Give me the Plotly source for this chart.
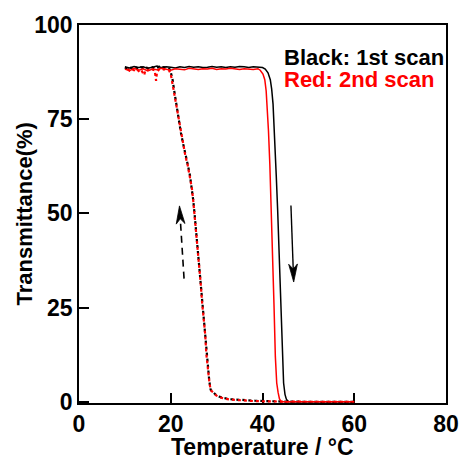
import plotly.graph_objects as go

# ---------------- data ----------------
# Heating, 1st scan (black solid)
heat1_T = [10, 11, 12, 13, 14, 15, 16, 17, 18, 19, 20, 21, 22, 23, 24, 25, 26, 27, 28, 29,
           30, 31, 32, 33, 34, 35, 36, 37, 38, 39, 40,
           40.6, 41.2, 41.7, 42.0, 42.3, 42.6, 43.0, 43.3, 43.7, 44.0, 44.2, 44.4, 44.6, 44.9,
           45.2, 45.6, 46, 50, 55, 60]
heat1_Y = [88.9, 88.6, 89.0, 88.7, 88.9, 88.5, 88.8, 89.1, 88.7, 88.9, 88.8, 88.6, 88.9, 88.7,
           89.0, 88.8, 88.9, 88.7, 88.8, 89.0, 88.8, 88.9, 88.7, 88.9, 88.8, 89.0, 88.9, 88.7,
           88.9, 88.8, 88.7,
           88.3, 87.3, 85.5, 83.0, 79.0, 72.0, 60.0, 51.0, 38.0, 26.0, 18.0, 10.0, 5.0, 2.0,
           0.7, 0.1, 0, 0, 0, 0]

# Heating, 2nd scan (red solid)
heat2_T = [10, 11, 12, 13, 14, 15, 16, 17, 18, 19, 20, 21, 22, 23, 24, 25, 26, 27, 28, 29,
           30, 31, 32, 33, 34, 35, 36, 37, 38, 39,
           39.5, 40.1, 40.5, 40.8, 41.0, 41.3, 41.6, 41.9, 42.2, 42.5, 42.8, 43.1, 43.4, 43.7,
           44.1, 50, 55, 60]
heat2_Y = [88.3, 87.9, 88.5, 88.0, 88.4, 87.8, 88.3, 88.1, 88.5, 88.2, 88.0, 88.4, 88.3, 88.1,
           88.5, 88.3, 88.2, 88.4, 88.3, 88.5, 88.2, 88.4, 88.3, 88.5, 88.3, 88.2, 88.4, 88.3,
           88.2, 88.4,
           88.0, 87.0, 85.5, 82.5, 78.5, 72.0, 63.0, 52.0, 40.0, 26.0, 12.0, 5.0, 2.5, 0.8,
           0, 0, 0, 0]

# Cooling, 1st scan (black dotted)
cool1_T = [10, 10.5, 11, 11.5, 12, 12.5, 13, 13.5, 14, 14.5, 15, 15.5, 16, 16.5, 17, 17.5,
           18, 18.5, 19, 19.7, 20.0, 20.4, 20.7, 21.0, 21.4, 21.8, 22.2, 22.7, 23.2, 23.7,
           24.2, 24.6, 24.9, 25.2, 25.5, 25.9, 26.3, 26.5, 26.8, 27.2, 27.5, 27.75, 28.0,
           28.4, 28.7, 29.3, 29.9, 30.5, 31.6, 33, 35, 38.4, 45, 50, 55, 60]
cool1_Y = [88.7, 88.4, 88.8, 88.5, 88.9, 88.6, 88.4, 88.8, 88.6, 88.9, 88.5, 88.7, 88.8, 88.4,
           88.7, 88.9, 88.6, 88.8, 88.5, 88.4, 87.5, 85.5, 83.0, 80.5, 77.5, 74.1, 71.5, 68.5,
           65.3, 63.0, 60.0, 56.8, 53.5, 49.8, 45.5, 40.5, 35.8, 32.0, 27.0, 22.5, 18.2, 13.0,
           9.3, 5.5, 3.2, 2.4, 1.8, 1.4, 1.0, 0.7, 0.5, 0.3, 0.05, 0, 0, 0]

# Cooling, 2nd scan (red dotted)
cool2_T = [10, 10.5, 11, 11.5, 12, 12.5, 13, 13.5, 14.2, 14.5, 15, 15.5, 16, 16.5, 16.8, 17.0,
           17.5, 18, 18.5, 19, 19.6, 20.0, 20.3, 20.6, 21.0, 21.4, 21.8, 22.2, 22.7, 23.2,
           23.7, 24.2, 24.6, 24.9, 25.2, 25.5, 25.9, 26.3, 26.5, 26.8, 27.2, 27.5, 27.75,
           28.0, 28.4, 28.7, 29.3, 29.9, 30.5, 31.6, 33, 35, 38.4, 45, 50, 55, 60]
cool2_Y = [88.2, 88.5, 87.9, 88.3, 88.0, 88.4, 87.8, 88.2, 86.7, 88.1, 88.4, 87.9, 88.2, 88.0,
           85.2, 87.5, 88.3, 88.0, 88.3, 88.1, 88.0, 87.0, 85.0, 83.0, 80.0, 77.0, 74.0, 71.3,
           68.3, 65.2, 62.8, 59.8, 56.7, 53.4, 49.6, 45.3, 40.3, 35.6, 31.8, 26.8, 22.3, 18.0,
           12.8, 9.1, 5.4, 3.1, 2.3, 1.7, 1.3, 0.9, 0.6, 0.4, 0.2, 0.05, 0, 0, 0]

# axis ticks and texts
x_ticks = [0, 20, 40, 60, 80]
y_ticks = [0, 25, 50, 75, 100]
x_title = "Temperature / °C"
y_title = "Transmittance(%)"
legend_lines = ["Black: 1st scan", "Red: 2nd scan"]

# arrows: (tail, tip) in data units
arrow_heat = ((46.2, 52.1), (46.8, 31.8))   # solid, pointing down
arrow_cool = ((22.9, 32.7), (21.9, 52.0))   # dashed, pointing up

# ---------------- figure ----------------
BLACK = "#000000"
RED = "#ff0000"
FONT = "Liberation Sans, Arial, Helvetica, sans-serif"

X_RANGE = [0, 80]
Y_RANGE = [-0.3, 100]
W, H = 471, 457
ML, MR, MT, MB = 79, 15, 24, 54
PW, PH = W - ML - MR, H - MT - MB
SX = PW / (X_RANGE[1] - X_RANGE[0])
SY = PH / (Y_RANGE[1] - Y_RANGE[0])

fig = go.Figure()
fig.add_trace(go.Scatter(x=cool1_T, y=cool1_Y, mode="lines",
                         line=dict(color=BLACK, width=2.2, dash="3px,3px")))
fig.add_trace(go.Scatter(x=cool2_T, y=cool2_Y, mode="lines",
                         line=dict(color=RED, width=2.2, dash="0px,3px,3px,0px")))
fig.add_trace(go.Scatter(x=heat1_T, y=heat1_Y, mode="lines",
                         line=dict(color=BLACK, width=1.5)))
fig.add_trace(go.Scatter(x=heat2_T, y=heat2_Y, mode="lines",
                         line=dict(color=RED, width=1.5)))


def head_path(tail, tip, L=18, hw=4.5, notch=5):
    dx = (tip[0] - tail[0]) * SX
    dy = (tip[1] - tail[1]) * SY
    n = (dx * dx + dy * dy) ** 0.5
    ux, uy = dx / n, dy / n
    px, py = -uy, ux
    tx, ty = tip[0] * SX, tip[1] * SY
    bx, by = tx - ux * L, ty - uy * L
    pts = [(tx, ty), (bx + px * hw, by + py * hw), (tx - ux * (L - notch), ty - uy * (L - notch)),
           (bx - px * hw, by - py * hw)]
    d = "M " + " L ".join(f"{x / SX:.4f},{y / SY:.4f}" for x, y in pts) + " Z"
    base = ((tx - ux * (L - notch)) / SX, (ty - uy * (L - notch)) / SY)
    return d, base


for (tail, tip), dash, lw in [(arrow_heat, "solid", 1.4), (arrow_cool, "7px,5px", 1.6)]:
    d, base = head_path(tail, tip)
    fig.add_shape(type="line", xref="x", yref="y", x0=tail[0], y0=tail[1], x1=base[0], y1=base[1],
                  line=dict(color=BLACK, width=lw, dash=dash))
    fig.add_shape(type="path", xref="x", yref="y", path=d, fillcolor=BLACK,
                  line=dict(color=BLACK, width=0.8))

# legend as text
fig.add_annotation(x=44.2, y=91.3, xref="x", yref="y", text=legend_lines[0], showarrow=False,
                   xanchor="left", yanchor="middle",
                   font=dict(family=FONT, size=22, color=BLACK, weight="bold"))
fig.add_annotation(x=44.2, y=85.6, xref="x", yref="y", text=legend_lines[1], showarrow=False,
                   xanchor="left", yanchor="middle",
                   font=dict(family=FONT, size=22, color=RED, weight="bold"))

# axis titles
fig.add_annotation(x=0.5, y=-44 / PH, xref="paper", yref="paper", text=x_title,
                   showarrow=False, xanchor="center", yanchor="middle",
                   font=dict(family=FONT, size=23, color=BLACK, weight="bold"))
fig.add_annotation(x=(22 - ML) / PW, y=0.5, xref="paper", yref="paper", text=y_title,
                   showarrow=False, xanchor="center", yanchor="middle", textangle=-90,
                   font=dict(family=FONT, size=22, color=BLACK, weight="bold"))

axis_common = dict(showgrid=False, zeroline=False, showline=True, linecolor=BLACK,
                   linewidth=1.5, mirror=True, ticks="inside", ticklen=10, tickwidth=1.5,
                   tickcolor=BLACK, layer="below traces",
                   tickfont=dict(family=FONT, size=23, color=BLACK, weight="bold"))

fig.update_xaxes(range=X_RANGE, tickvals=x_ticks, ticktext=[str(v) for v in x_ticks],
                 **axis_common)
fig.update_yaxes(range=Y_RANGE, tickvals=y_ticks, ticktext=[str(v) for v in y_ticks],
                 **axis_common)

fig.update_layout(width=W, height=H, margin=dict(l=ML, r=MR, t=MT, b=MB),
                  paper_bgcolor="white", plot_bgcolor="white", showlegend=False,
                  font=dict(family=FONT, color=BLACK))

fig.write_html("out.html", config={"displayModeBar": False},
               post_script="document.body.style.margin='0';document.body.style.overflow='hidden';")
